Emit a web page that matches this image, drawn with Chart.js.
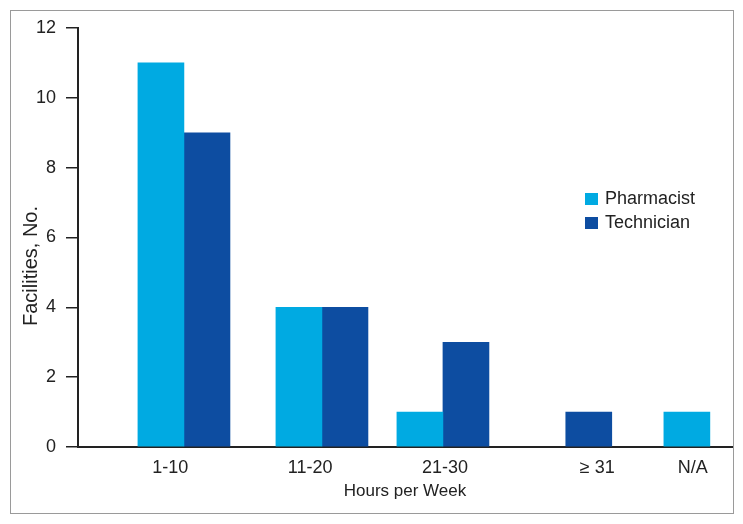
<!DOCTYPE html>
<html>
<head>
<meta charset="utf-8">
<script src="https://cdn.jsdelivr.net/npm/chart.js@4"></script>
<style>
  html, body { margin: 0; padding: 0; background: #fff; }
  #wrap { position: relative; width: 743px; height: 524px; }
  #frame { position: absolute; left: 10px; top: 10px; width: 722px; height: 502px; border: 1px solid #9a9a9a; pointer-events: none; }
</style>
</head>
<body>
<div id="wrap">
  <canvas id="chart1" width="743" height="524"></canvas>
  <div id="frame"></div>
</div>
<script>
/* Data */
const categories = ['1-10', '11-20', '21-30', '\u2265 31', 'N/A'];
const pharmacist = [11, 4, 1, null, 1];
const technician = [9, 4, 3, 1, null];
const yTicks = [0, 2, 4, 6, 8, 10, 12];
const yTitle = 'Facilities, No.';

/* Where each group sits along the (uneven) x axis, 0..100 */
const groupPos = [16.2, 37.3, 55.8, 78.1, 93.1];
const labelPos = [14.1, 35.5, 56.1, 79.4, 94.0];
const halfBar = 3.52;

const fontFam = '"Liberation Sans", Arial, Helvetica, sans-serif';
const ink = '#222222';

/* builds {x, y} points for one series, a lone bar is centred on its group */
function buildPoints(vals, other, side) {
    let pts = [];
    for (let i = 0; i < categories.length; i++) {
        if (vals[i] == null) continue;
        let off = other[i] == null ? 0 : side * halfBar;
        pts.push({ x: groupPos[i] + off, y: vals[i] });
    }
    return pts;
}

/* legend drawn at a fixed spot in the plot, plus the y title which sits
   lower than the axis centre in the original */
const extras = {
    id: 'extras',
    afterDraw(chart) {
        const c = chart.ctx;
        c.save();
        c.font = '18px ' + fontFam;
        c.textBaseline = 'middle';
        chart.data.datasets.forEach((ds, i) => {
            let y = 199 + i * 24;
            c.fillStyle = ds.backgroundColor;
            c.fillRect(585, y - 6, 13, 12);
            c.fillStyle = ink;
            c.fillText(ds.label, 605, y);
        });
        c.translate(31, 266);
        c.rotate(-Math.PI / 2);
        c.textAlign = 'center';
        c.font = '20px ' + fontFam;
        c.fillText(yTitle, 0, 0);
        c.restore();
    }
};

const ctx = document.getElementById('chart1');
const chart1 = new Chart(ctx, {
    type: 'bar',
    data: {
        datasets: [
            { label: 'Pharmacist', data: buildPoints(pharmacist, technician, -1), backgroundColor: '#00aae2' },
            { label: 'Technician', data: buildPoints(technician, pharmacist, 1), backgroundColor: '#0d4da1' }
        ]
    },
    options: {
        responsive: false,
        animation: false,
        devicePixelRatio: 1,
        layout: { padding: { left: 10, top: 28, right: 11, bottom: 22 } },
        datasets: { bar: { barThickness: 46, grouped: false, borderWidth: 0 } },
        plugins: { legend: { display: false }, tooltip: { enabled: false } },
        scales: {
            x: {
                type: 'linear',
                offset: false,
                min: 0,
                max: 100,
                afterBuildTicks: (s) => { s.ticks = labelPos.map(v => ({ value: v })); },
                afterFit: (s) => { s.height = 55; },
                grid: { display: false, drawTicks: false, offset: false },
                border: { display: true, color: ink, width: 2 },
                ticks: {
                    autoSkip: false, maxRotation: 0, padding: 10,
                    color: ink, font: { family: fontFam, size: 18 },
                    callback: (v, i) => categories[i]
                },
                title: {
                    display: true, text: 'Hours per Week', color: ink,
                    font: { family: fontFam, size: 17 }, padding: { top: 0, bottom: 0 }
                }
            },
            y: {
                min: 0,
                max: 12,
                afterBuildTicks: (s) => { s.ticks = yTicks.map(v => ({ value: v })); },
                afterFit: (s) => { s.width = 68; },
                grid: { drawOnChartArea: false, drawTicks: true, tickLength: 12, color: ink, lineWidth: 1.5 },
                border: { display: true, color: ink, width: 2 },
                ticks: { padding: 10, color: ink, font: { family: fontFam, size: 18 } },
                title: { display: false }
            }
        }
    },
    plugins: [extras]
});
</script>
</body>
</html>
